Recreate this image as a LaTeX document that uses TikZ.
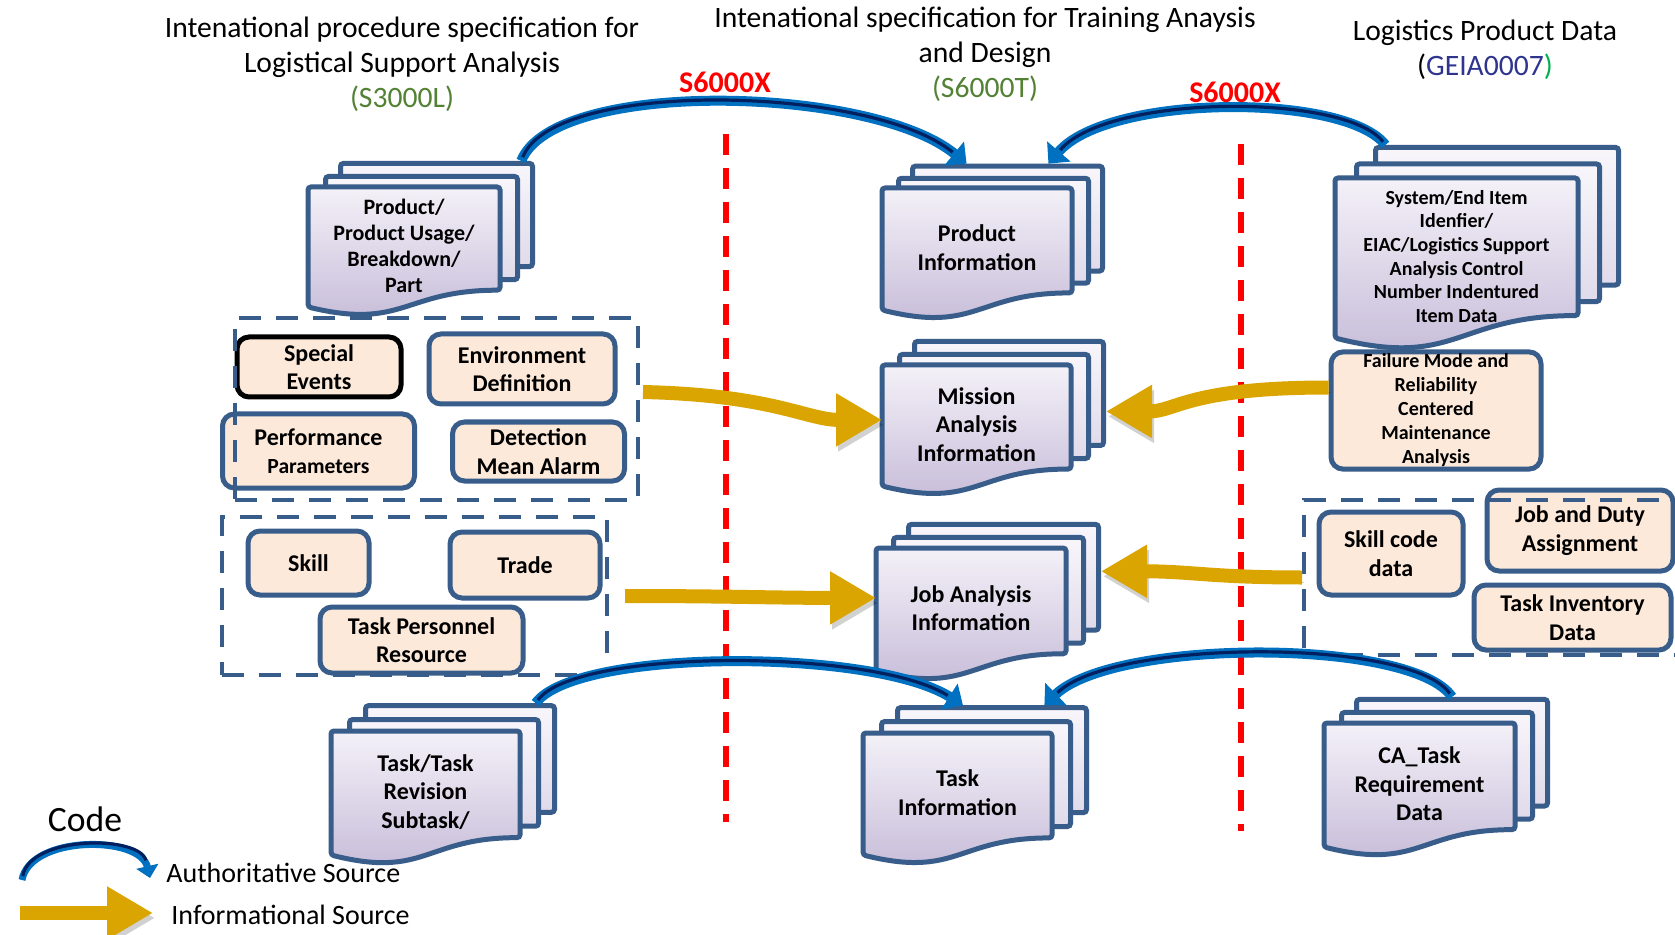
\documentclass[tikz,border=0pt]{standalone}
\usepackage{fontspec}
\setmainfont{Carlito}
\usetikzlibrary{arrows.meta,calc}

\definecolor{boxblue}{RGB}{56,93,138}
\definecolor{peach}{RGB}{252,233,218}
\definecolor{pagetop}{RGB}{244,241,248}
\definecolor{pagebot}{RGB}{196,185,215}
\definecolor{backtop}{RGB}{248,246,251}
\definecolor{backbot}{RGB}{224,218,234}
\definecolor{gold}{RGB}{218,165,0}
\definecolor{arcblue}{RGB}{0,112,192}
\definecolor{arcnavy}{RGB}{0,32,96}
\definecolor{specgreen}{RGB}{84,130,53}
\definecolor{geiablue}{RGB}{47,53,143}
\definecolor{brightgreen}{RGB}{0,176,80}

% three stacked pages, the front one with a wavy foot
% [text opts]{name}{x}{y}{w}{h}{step}{text}
\newcommand{\docstack}[8][]{%
 \node[backpage, minimum width=#5*0.5pt, minimum height=0.86*#6*0.5pt] (#2-b) at (#3+2*#7,#4-1.74*#7) {};
 \node[backpage, minimum width=#5*0.5pt, minimum height=0.86*#6*0.5pt] (#2-m) at (#3+#7,#4-0.87*#7) {};
 \path[frontpage] (#3,#4) -- (#3+#5,#4) -- (#3+#5,#4+0.86*#6)
   .. controls (#3+0.5*#5,#4+0.86*#6) and (#3+0.5*#5,#4+1.19*#6) .. (#3,#4+#6) -- cycle;
 \node[inner sep=0, anchor=north west, minimum width=#5*0.5pt, minimum height=#6*0.5pt] (#2) at (#3,#4) {};
 \node[doctext,#1] (#2-t) at (#3+0.5*#5,#4+0.49*#6) {#8};
}

\begin{document}
\begin{tikzpicture}[x=0.5pt,y=-0.5pt,
 title/.style={align=center, font=\fontsize{14.8}{17.5}\selectfont},
 xlabel/.style={text=red, font=\fontsize{15}{17}\selectfont\bfseries},
 sepline/.style={draw=red, line width=2.6pt, dash pattern=on 10.5pt off 6.5pt},
 backpage/.style={draw=boxblue, line width=2.5pt, rounded corners=1.5pt, top color=backtop, bottom color=backbot, anchor=north west, inner sep=0},
 frontpage/.style={draw=boxblue, line width=2.5pt, rounded corners=1.5pt, top color=pagetop, bottom color=pagebot},
 doctext/.style={align=center, inner sep=0, font=\fontsize{12}{14.3}\selectfont\bfseries},
 infobox/.style={draw=boxblue, line width=2.5pt, rounded corners=6pt, fill=peach, align=center, inner sep=1pt, font=\fontsize{12}{14.2}\selectfont\bfseries},
 grpbox/.style={draw=boxblue, line width=2pt, dash pattern=on 11pt off 7.5pt, inner sep=0},
 goldarr/.style={draw=gold, line width=7pt, -{Triangle[length=23pt,width=25pt]},
   preaction={draw=black, opacity=0.18, transform canvas={shift={(1pt,-2.5pt)}}}},
 authsrc/.style={draw=arcblue, line width=5pt, -{Triangle[length=8pt,width=15pt]},
   postaction={draw=arcnavy, line width=1.6pt, -, shorten >=9pt, shorten <=2pt}},
 legtext/.style={anchor=west, inner sep=1pt, font=\fontsize{14}{16}\selectfont}]

\useasboundingbox (0,0) rectangle (1675,935);
\fill[white] (0,0) rectangle (1675,935);

% headings
\node[title] (ttlL) at (402,64) {Intenational procedure specification for\\Logistical Support Analysis\\\textcolor{specgreen}{(S3000L)}};
\node[title] (ttlM) at (985,54) {Intenational specification for Training Anaysis\\and Design\\\textcolor{specgreen}{(S6000T)}};
\node[title] (ttlR) at (1485,50) {Logistics Product Data\\(\textcolor{geiablue}{GEIA0007}\textcolor{brightgreen}{)}};

% S6000X borders
\draw[sepline] (726,134) -- (726,822);
\draw[sepline] (1241,144) -- (1241,831);

% data sets
\docstack[font=\fontsize{11}{13}\selectfont\bfseries]{prodA}{308}{187}{192}{120}{15}{Product/\\Product Usage/\\Breakdown/\\Part}
\docstack{prodI}{882}{188}{190}{122}{14}{Product\\Information}
\docstack[font=\fontsize{10}{11.8}\selectfont\bfseries]{sysItem}{1335}{178}{243}{160}{19}{System/End Item\\Idenfier/\\EIAC/Logistics Support\\Analysis Control\\Number Indentured\\Item Data}
\docstack{mission}{882}{365}{189}{121}{15}{Mission\\Analysis\\Information}
\docstack{jobAn}{876}{548}{190}{123}{15}{Job Analysis\\Information}
\docstack{taskA}{331}{731}{189}{124}{16}{Task/Task\\Revision\\Subtask/}
\docstack{taskI}{863}{733}{189}{122}{16}{Task\\Information}
\docstack{caTask}{1324}{723}{191}{124}{15}{CA\_Task\\Requirement\\Data}

% S3000L items
\node[infobox, draw=black, minimum width=82pt, minimum height=30pt] (spEv) at (319,367) {Special\\Events};
\node[infobox, minimum width=93pt, minimum height=35pt] (envDef) at (522,369) {Environment\\Definition};
\node[infobox, minimum width=96pt, minimum height=37pt] (perfPar) at (318.5,451) {Performance\\{\fontsize{10.8}{12}\selectfont Parameters}};
\node[infobox, minimum width=86pt, minimum height=29.5pt] (detMA) at (538.5,451.5) {Detection\\Mean Alarm};
\node[infobox, minimum width=60.5pt, minimum height=32pt] (skill) at (308.5,563) {Skill};
\node[infobox, minimum width=75pt, minimum height=33pt] (trade) at (525,565) {Trade};
\node[infobox, minimum width=101.5pt, minimum height=33pt] (tpr) at (421.5,640) {Task Personnel\\Resource};

% GEIA items
\node[infobox, font=\fontsize{10}{12}\selectfont\bfseries, minimum width=105pt, minimum height=58.5pt] (fmeca) at (1436,410.5) {Failure Mode and\\Reliability\\Centered\\Maintenance\\Analysis};
\node[infobox, minimum width=72pt, minimum height=41.5pt] (skillCode) at (1391,553.5) {Skill code\\data};
\node[infobox, minimum width=93pt, minimum height=40.5pt] (jobDuty) at (1580,530.5) {Job and Duty\\Assignment};
\node[infobox, minimum width=98.5pt, minimum height=32.5pt] (taskInv) at (1572.5,617.5) {Task Inventory\\Data};

% groups
\node[grpbox, minimum width=201.5pt, minimum height=91pt] (grp1) at (436.5,409) {};
\node[grpbox, minimum width=192.5pt, minimum height=79pt] (grp2) at (414.5,596) {};
\node[grpbox, minimum width=198pt, minimum height=77.5pt] (grp3) at (1502,577.5) {};

% informational sources
\draw[goldarr] ([shift={(3,-17)}]grp1.east) .. controls +(130,3) and +(-75,0) .. ([shift={(0,-6)}]mission.west);
\draw[goldarr] ([shift={(0,-23)}]fmeca.west) .. controls +(-140,0) and +(70,0) .. ([shift={(0,18)}]mission-b.east);
\draw[goldarr] ([shift={(16,0)}]grp2.east) .. controls +(100,0) and +(-100,0) .. ([shift={(0,-12)}]jobAn.west);
\draw[goldarr] (grp3.west) .. controls +(-90,0) and +(90,0) .. ([shift={(0,-6)}]jobAn-b.east);

% authoritative sources
\draw[authsrc] ($(prodA-b.north west)!0.93!(prodA-b.north east)$) .. controls +(33,-83) and +(-95,-78) .. ($(prodI-b.north west)!0.29!(prodI-b.north east)$);
\draw[authsrc] ($(sysItem-b.north west)!0.05!(sysItem-b.north east)$) .. controls +(-40,-52) and +(60,-70) .. ($(prodI-b.north west)!0.71!(prodI-b.north east)$);
\draw[authsrc] ($(taskA-b.north west)!0.89!(taskA-b.north east)$) .. controls +(40,-55) and +(-90,-57) .. ($(taskI-b.north west)!0.35!(taskI-b.north east)$);
\draw[authsrc] ($(caTask-b.north west)!0.5!(caTask-b.north east)$) .. controls +(-40,-59) and +(70,-67) .. ($(taskI-b.north west)!0.77!(taskI-b.north east)$);

\node[xlabel] (xA) at (725,82) {S6000X};
\node[xlabel] (xB) at (1235,92) {S6000X};

% legend
\node[font=\fontsize{17.8}{20}\selectfont] (lgCode) at (85,819) {Code};
\coordinate (lgA) at (22,880);
\coordinate (lgB) at (150,878);
\coordinate (lgC) at (20,913);
\coordinate (lgD) at (153,913);
\draw[authsrc, line width=3.5pt, -{Triangle[length=6pt,width=11pt]}] (lgA) .. controls +(8,-45) and +(-10,-43) .. (lgB);
\draw[goldarr] (lgC) -- (lgD);
\node[legtext] (lgAuth) at (164,873) {Authoritative Source};
\node[legtext] (lgInfo) at (169,915) {Informational Source};
\end{tikzpicture}
\end{document}
